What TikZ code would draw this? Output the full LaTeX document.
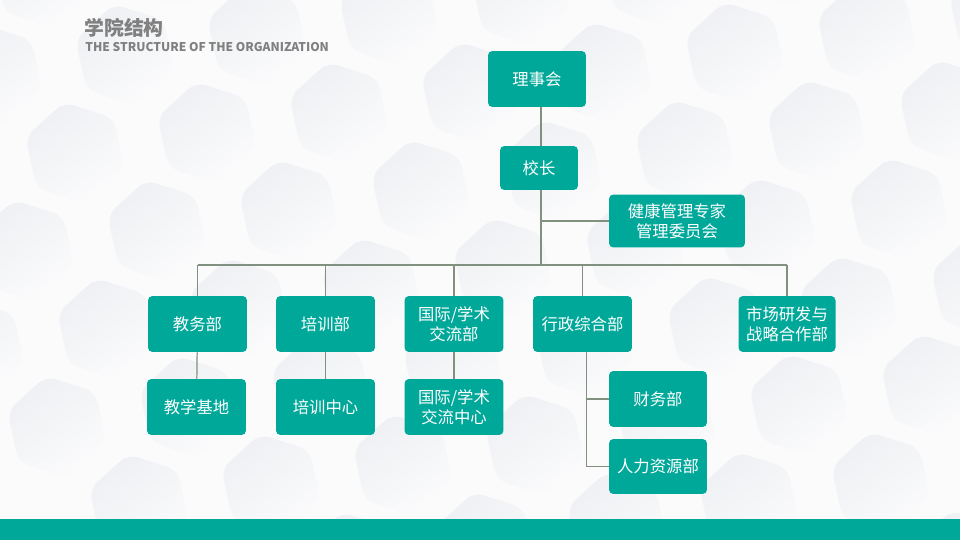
\documentclass[tikz,border=0pt]{standalone}
\usepackage{fontspec}
\setmainfont{Noto Sans CJK SC}
\usetikzlibrary{positioning}
\definecolor{orgteal}{RGB}{0,168,154}
\definecolor{orglink}{RGB}{128,145,128}
\definecolor{titlegray}{RGB}{128,128,128}
\definecolor{hexgray}{RGB}{238,240,243}
\definecolor{pagegray}{RGB}{251,251,252}

\begin{document}
\begin{tikzpicture}[x=0.02cm, y=-0.02cm,
    box/.style={rectangle, rounded corners=2.5pt, fill=orgteal, text=white,
      minimum width=1.98cm, minimum height=1.12cm, inner sep=1pt, align=center,
      font=\fontsize{9.3}{11.2}\selectfont},
    link/.style={draw=orglink, line width=0.7pt},
    hexcell/.style={rounded corners=6pt, top color=hexgray, bottom color=pagegray, shading angle=35}]
    \useasboundingbox (0,0) rectangle (960,540);
    \fill[pagegray] (0,0) rectangle (960,540);
    % faint hexagon background
    \begin{scope}
      \clip (0,0) rectangle (960,540);
      \foreach \i in {-2,...,8} {
        \foreach \j in {-2,...,6} {
          \path[hexcell, shift={(75+132*\i+82*\j, 153-20*\i+78*\j)}, rotate=-18]
            (0:52) -- (60:52) -- (120:52) -- (180:52) -- (240:52) -- (300:52) -- cycle;
        }
      }
    \end{scope}
    \fill[orgteal] (0,519) rectangle (960,540);

    % title
    \node[anchor=west, inner sep=0, text=titlegray, font=\bfseries\fontsize{11.3}{13}\selectfont] (title) at (84,28) {学院结构};
    \node[anchor=west, inner sep=0, text=titlegray, font=\bfseries\fontsize{6.85}{8}\selectfont] (subtitle) at (85,47) {THE STRUCTURE OF THE ORGANIZATION};

    % top
    \node[box, minimum width=1.96cm] (lsh) at (537,79) {理事会};
    \node[box, minimum width=1.56cm, minimum height=0.88cm] (xz) at (539,168) {校长};
    \node[box, minimum width=2.72cm, minimum height=1.06cm] (jk) at (677,221) {健康管理专家\\管理委员会};

    % departments
    \node[box] (jwb) at (197.5,324) {教务部};
    \node[box] (pxb) at (325.5,324) {培训部};
    \node[box] (gjb) at (454,324) {国际/学术\\交流部};
    \node[box] (xzzh) at (582.5,324) {行政综合部};
    \node[box, minimum width=1.94cm] (sc) at (787,324) {市场研发与\\战略合作部};

    % second row
    \node[box] (jxjd) at (196.5,407) {教学基地};
    \node[box] (pxzx) at (325.5,407) {培训中心};
    \node[box] (gjzx) at (454,407) {国际/学术\\交流中心};
    \node[box, minimum width=1.96cm] (cwb) at (658,399) {财务部};
    \node[box, minimum width=1.96cm, minimum height=1.1cm] (rlzy) at (658,466.5) {人力资源部};

    % connectors
    \coordinate (bus) at (541,265);
    \draw[link] (lsh.south -| bus) -- (xz.north -| bus);
    \draw[link] (xz.south -| bus) -- (bus);
    \draw[link] (jk.west) -- (jk.west -| bus);
    \draw[link] (jwb.north |- bus) -- (sc.north |- bus);
    \foreach \d in {jwb,pxb,gjb,xzzh,sc}
      \draw[link] (\d.north) -- (\d.north |- bus);
    \draw[link] (jwb) -- (jxjd);
    \draw[link] (pxb) -- (pxzx);
    \draw[link] (gjb) -- (gjzx);
    \draw[link] ([xshift=0.08cm]xzzh.south) |- (rlzy.west);
    \draw[link] ([xshift=0.08cm]xzzh.south) |- (cwb.west);
\end{tikzpicture}
\end{document}
